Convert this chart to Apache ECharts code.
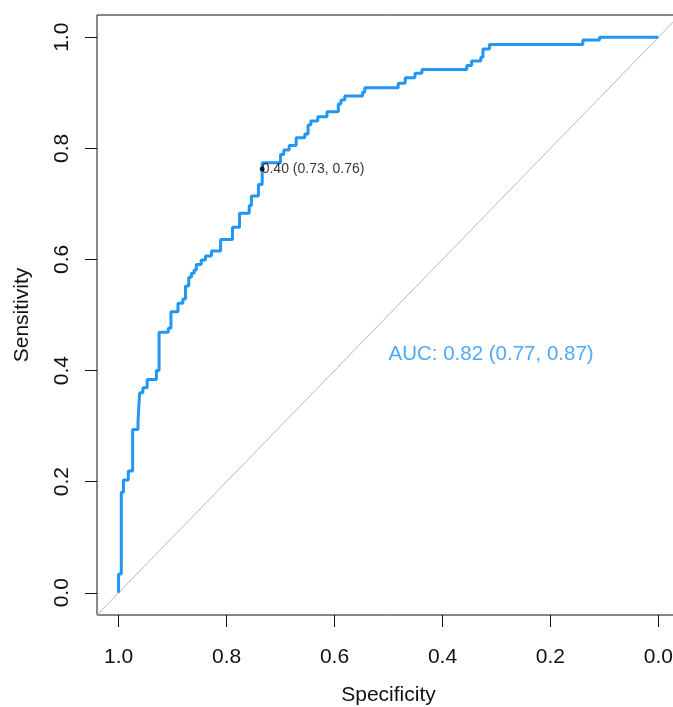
<!DOCTYPE html>
<html lang="en">
<head>
    <meta charset="UTF-8">
    <title>ROC curve</title>
    <style>
        body { margin: 0; background: #fff; }
        #roc { width: 673px; height: 707px; }
    </style>
    <script src="https://cdn.jsdelivr.net/npm/echarts@6/dist/echarts.min.js"></script>
</head>
<body>
<div id="roc"></div>
<script>
// roc curve points (specificity goes 1 -> 0)
var specificities = [
    1.000, 1.000, 0.995, 0.995, 0.991, 0.991, 0.982, 0.982, 0.974, 0.974,
    0.964, 0.964, 0.961, 0.961, 0.955, 0.955, 0.947, 0.947, 0.930, 0.930,
    0.925, 0.925, 0.908, 0.908, 0.903, 0.903, 0.890, 0.890, 0.881, 0.881,
    0.876, 0.876, 0.870, 0.870, 0.865, 0.865, 0.860, 0.860, 0.856, 0.856,
    0.847, 0.847, 0.839, 0.839, 0.828, 0.828, 0.811, 0.811, 0.789, 0.789,
    0.776, 0.776, 0.758, 0.758, 0.754, 0.754, 0.741, 0.741, 0.734, 0.734,
    0.700, 0.700, 0.694, 0.694, 0.684, 0.684, 0.671, 0.671, 0.655, 0.655,
    0.649, 0.649, 0.644, 0.644, 0.631, 0.631, 0.614, 0.614, 0.593, 0.593,
    0.588, 0.588, 0.581, 0.581, 0.548, 0.548, 0.544, 0.544, 0.482, 0.482,
    0.469, 0.469, 0.451, 0.451, 0.438, 0.438, 0.355, 0.355, 0.346, 0.346,
    0.329, 0.329, 0.325, 0.325, 0.313, 0.313, 0.140, 0.140, 0.109, 0.109,
    0.000
];
var sensitivities = [
    0.000, 0.034, 0.034, 0.181, 0.181, 0.203, 0.203, 0.219, 0.219, 0.294,
    0.294, 0.309, 0.309, 0.360, 0.360, 0.369, 0.369, 0.384, 0.384, 0.400,
    0.400, 0.469, 0.469, 0.476, 0.476, 0.506, 0.506, 0.521, 0.521, 0.529,
    0.529, 0.552, 0.552, 0.568, 0.568, 0.575, 0.575, 0.581, 0.581, 0.591,
    0.591, 0.599, 0.599, 0.606, 0.606, 0.615, 0.615, 0.636, 0.636, 0.658,
    0.658, 0.683, 0.683, 0.697, 0.697, 0.714, 0.714, 0.735, 0.735, 0.774,
    0.774, 0.789, 0.789, 0.797, 0.797, 0.805, 0.805, 0.819, 0.819, 0.826,
    0.826, 0.842, 0.842, 0.849, 0.849, 0.857, 0.857, 0.866, 0.866, 0.880,
    0.880, 0.887, 0.887, 0.894, 0.894, 0.901, 0.901, 0.909, 0.909, 0.917,
    0.917, 0.927, 0.927, 0.935, 0.935, 0.942, 0.942, 0.949, 0.949, 0.957,
    0.957, 0.964, 0.964, 0.979, 0.979, 0.987, 0.987, 0.995, 0.995, 1.000,
    1.000
];

var tickValues = [0, 0.2, 0.4, 0.6, 0.8, 1.0];

// best threshold and auc
var bestThreshold = 0.40;
var bestPoint = [0.734, 0.763];
var auc = 0.82;
var aucCI = [0.77, 0.87];
var aucTextPos = [0.5, 0.43];

var rocData = specificities.map(function (s, i) { return [s, sensitivities[i]]; });

var blue = '#2196F3';
var chart = echarts.init(document.getElementById('roc'));

chart.setOption({
    animation: false,
    textStyle: { fontFamily: 'Liberation Sans, Arial, sans-serif' },
    grid: {
        left: 97, top: 15, right: -7, bottom: 92,
        outerBoundsMode: 'none',
        containLabel: false,
        show: true, borderColor: '#111', borderWidth: 1
    },
    xAxis: {
        type: 'value',
        min: -0.04, max: 1.04,
        inverse: true,
        name: 'Specificity',
        nameLocation: 'middle',
        nameGap: 70,
        nameTextStyle: { fontSize: 21, color: '#111', verticalAlign: 'top' },
        axisLine: { show: false, onZero: false },
        splitLine: { show: false },
        axisTick: { show: true, length: 12, customValues: tickValues, lineStyle: { color: '#111' } },
        axisLabel: {
            customValues: tickValues,
            fontSize: 21, color: '#111', margin: 32,
            formatter: function (v) { return v.toFixed(1); }
        }
    },
    yAxis: {
        type: 'value',
        min: -0.04, max: 1.04,
        name: 'Sensitivity',
        nameLocation: 'middle',
        nameGap: 64,
        nameRotate: 90,
        nameTextStyle: { fontSize: 21, color: '#111' },
        axisLine: { show: false, onZero: false },
        splitLine: { show: false },
        axisTick: { show: true, length: 12, customValues: tickValues, lineStyle: { color: '#111' } },
        axisLabel: {
            customValues: tickValues,
            rotate: 90,
            fontSize: 21, color: '#111', margin: 24,
            formatter: function (v) { return v.toFixed(1); }
        }
    },
    series: [
        {
            // chance line
            type: 'line',
            data: [[1.04, -0.04], [-0.04, 1.04]],
            symbol: 'none',
            silent: true,
            lineStyle: { color: '#b8b8b8', width: 1 }
        },
        {
            type: 'line',
            data: rocData,
            symbol: 'none',
            lineStyle: { color: blue, width: 3 }
        },
        {
            type: 'scatter',
            data: [bestPoint],
            symbolSize: 5,
            itemStyle: { color: '#000' },
            z: 5,
            label: {
                show: true,
                position: 'right',
                distance: -3,
                fontSize: 14,
                color: '#000',
                formatter: function () {
                    return bestThreshold.toFixed(2) + ' (' + bestPoint[0].toFixed(2) + ', ' + bestPoint[1].toFixed(2) + ')';
                }
            }
        },
        {
            type: 'scatter',
            data: [aucTextPos],
            symbolSize: 0,
            label: {
                show: true,
                position: 'right',
                distance: 0,
                fontSize: 20.5,
                color: blue,
                formatter: function () {
                    return 'AUC: ' + auc.toFixed(2) + ' (' + aucCI[0].toFixed(2) + ', ' + aucCI[1].toFixed(2) + ')';
                }
            }
        }
    ]
});
</script>
</body>
</html>
